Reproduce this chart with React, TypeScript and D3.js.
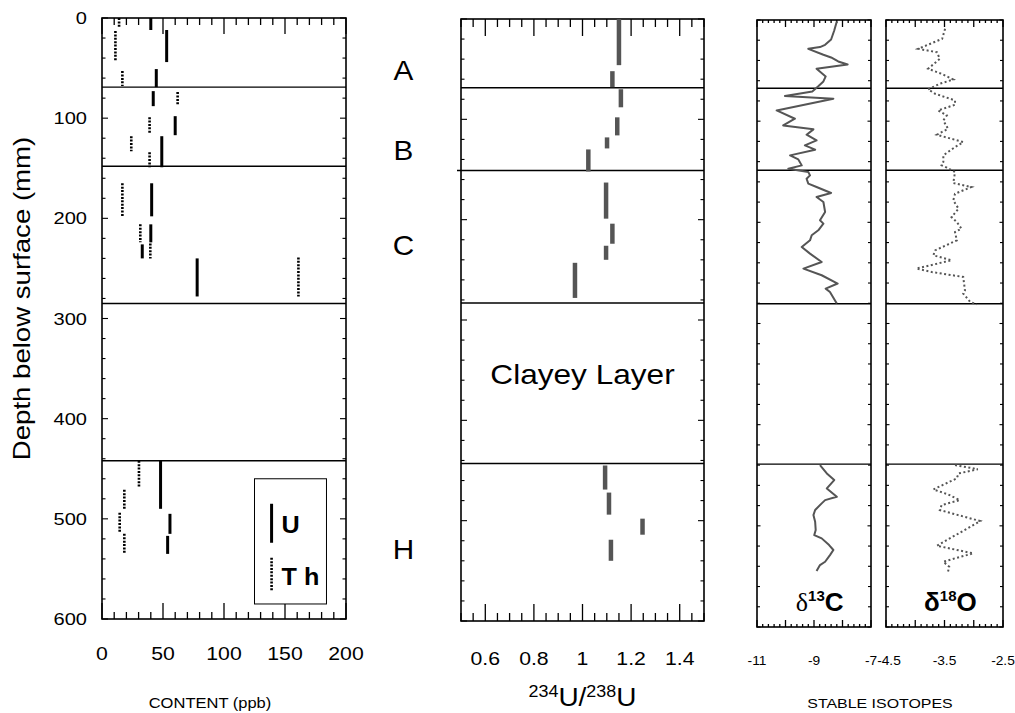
import React from "react";
import * as d3 from "d3";

// ---------- Data ----------
// U and Th content (ppb) as vertical bars spanning sample depth intervals (mm)
const uDepthTop = [0, 12, 51, 73, 98, 118, 165, 206, 226, 240, 442, 495, 517];
const uDepthBottom = [12, 44, 69, 88, 117, 149, 198, 224, 240, 278, 490, 515, 535];
const uContent = [40, 53, 44.5, 42, 60, 49, 40.7, 40, 33, 78, 48, 55.7, 53.8];

const thDepthTop = [0, 13, 53, 74, 99, 118, 134, 165, 206, 225, 239, 442, 471, 494, 515];
const thDepthBottom = [10, 43, 68, 86, 116, 133, 149, 198, 224, 240, 278, 469, 490, 514, 535];
const thContent = [14, 11, 16.7, 62, 39, 24, 39, 16.7, 31.4, 39.6, 161, 30.3, 18.3, 14.5, 18.3];

// 234U/238U activity ratio
const ratioDepthTop = [0, 52, 70, 98, 118, 130, 163, 204, 226, 243, 445, 472, 498, 519];
const ratioDepthBottom = [46, 68, 88, 116, 129, 152, 199, 224, 240, 278, 469, 494, 514, 540];
const ratioValue = [1.15, 1.123, 1.158, 1.143, 1.101, 1.024, 1.097, 1.123, 1.097, 0.969, 1.093, 1.109, 1.247, 1.117];

// δ13C profile (upper part, layers A–C)
const c13DepthUpper = [1.5, 10.4, 19.3, 24.5, 26.8, 28.5, 34.4, 37, 41, 44, 48.2, 55.8, 60.7, 65.4, 70.6, 72.3, 75.2, 77.9, 89.4, 97.6, 104.2, 108.1, 113.4, 119, 124, 128.2, 133.8, 137.8, 143.7, 147, 150.3, 153.6, 156.9, 161.8, 165.1, 171, 175, 179.9, 189.8, 198, 201.3, 207.9, 212.8, 217.8, 224.4, 230.9, 239.2, 245.7, 252.3, 260.5, 265.5, 268.8, 280.3];
const c13ValueUpper = [-8.2, -8.29, -8.4, -8.61, -8.79, -9.2, -8.67, -8.4, -8.15, -7.82, -8.91, -8.59, -8.67, -8.85, -9.06, -9.43, -10.02, -8.32, -10.31, -9.67, -10.08, -9.02, -9.26, -8.91, -9.32, -8.96, -9.84, -9.55, -9.43, -9.9, -9.2, -9.14, -9.26, -9.2, -8.91, -8.4, -8.91, -8.67, -8.61, -8.79, -8.67, -8.85, -9.08, -9.14, -9.43, -9.14, -8.73, -9.37, -8.73, -8.17, -8.59, -8.44, -8.2];
// δ13C profile (layer H)
const c13DepthLower = [440, 448.2, 454.8, 463, 471.3, 474.6, 477.8, 484.4, 489.4, 496, 504.2, 509.1, 512.4, 519, 523.9, 528.9, 535.5, 538.8, 544.7];
const c13ValueLower = [-8.79, -8.55, -8.29, -8.55, -8.2, -8.61, -8.73, -8.96, -9.02, -8.96, -8.94, -8.99, -8.73, -8.47, -8.32, -8.44, -8.61, -8.79, -8.91];

// δ18O profile (upper part)
const o18DepthUpper = [8.7, 18.6, 28.5, 31.8, 38.4, 48.2, 53.2, 58.8, 63, 68.6, 72.9, 79.5, 83.8, 89.4, 94.3, 99.3, 107.5, 113.4, 120.7, 125.6, 133.8, 140.4, 143.7, 146, 150.3, 161.2, 165.1, 171.7, 178.3, 186.5, 194.8, 199.7, 206.2, 209.6, 217.8, 227.7, 232.6, 237.5, 245.7, 249.1, 254, 267.2, 270.4, 278.7, 281];
const o18ValueUpper = [-3.49, -3.54, -3.95, -3.63, -3.58, -3.78, -3.55, -3.35, -3.58, -3.78, -3.66, -3.32, -3.32, -3.61, -3.46, -3.52, -3.44, -3.63, -3.18, -3.32, -3.52, -3.52, -3.55, -3.46, -3.32, -3.35, -3.04, -3.32, -3.35, -3.26, -3.38, -3.29, -3.21, -3.32, -3.29, -3.66, -3.69, -3.38, -3.98, -3.72, -3.18, -3.15, -3.18, -3.06, -2.95];
// δ18O profile (layer H)
const o18DepthLower = [440, 444, 448.2, 453.1, 464, 468.9, 474.6, 479.5, 484.4, 495.3, 505.9, 519.7, 527.2, 532.1, 535.5, 540.4, 545.4];
const o18ValueLower = [-3.32, -2.93, -3.26, -3.29, -3.69, -3.44, -3.24, -3.55, -3.58, -2.89, -3.21, -3.63, -3.01, -3.32, -3.52, -3.42, -3.44];

// layer boundaries (mm) as drawn in each panel
const contentBoundaries = [69, 148, 285, 442];
const ratioBoundaries = [68.5, 151, 283, 443];
const isotopeBoundaries = [67.5, 148.5, 280.5, 439];

const layerNames = ["A", "B", "C", "H"];
const layerLabelDepth = [51, 131, 225, 528];

const contentTickLabels = [0, 50, 100, 150, 200];
const depthTickLabels = [0, 100, 200, 300, 400, 500, 600];
const ratioTickLabels = [0.6, 0.8, 1, 1.2, 1.4];
const c13TickLabels = [-11, -9, -7];
const o18TickLabels = [-4.5, -3.5, -2.5];

const FONT = "'Liberation Sans', Arial, Helvetica, sans-serif";
const GREY = "#555";

type Tick = { v: number; major: boolean };

function makeTicks(start: number, step: number, n: number, isMajor: (i: number) => boolean): Tick[] {
  return d3.range(n + 1).map((i) => ({ v: +(start + i * step).toFixed(6), major: isMajor(i) }));
}

function Frame(props: {
  x: d3.ScaleLinear<number, number>;
  y: d3.ScaleLinear<number, number>;
  xTicks: Tick[];
  yTicks: Tick[];
  xMajor: number;
  xMinor: number;
  yMajor: number;
  yMinor: number;
}) {
  const { x, y, xTicks, yTicks, xMajor, xMinor, yMajor, yMinor } = props;
  const [x0, x1] = x.range();
  const [y0, y1] = y.range();
  return (
    <g>
      {xTicks.map((t, i) => {
        const px = x(t.v);
        const len = t.major ? xMajor : xMinor;
        return (
          <g key={"x" + i} stroke="#000" strokeWidth={1.3}>
            <line x1={px} x2={px} y1={y1} y2={y1 - len} />
            <line x1={px} x2={px} y1={y0} y2={y0 + len} />
          </g>
        );
      })}
      {yTicks.map((t, i) => {
        const py = y(t.v);
        const len = t.major ? yMajor : yMinor;
        return (
          <g key={"y" + i} stroke="#000" strokeWidth={1.1}>
            <line x1={x0} x2={x0 + len} y1={py} y2={py} />
            <line x1={x1} x2={x1 - len} y1={py} y2={py} />
          </g>
        );
      })}
      <rect x={x0} y={y0} width={x1 - x0} height={y1 - y0} fill="none" stroke="#000" strokeWidth={1.6} />
    </g>
  );
}

function T(props: {
  x: number;
  y: number;
  size: number;
  anchor?: string;
  sx?: number;
  rotate?: number;
  weight?: string | number;
  family?: string;
  children: React.ReactNode;
}) {
  const { x, y, size, anchor = "middle", sx = 1.18, rotate = 0, weight = "normal", family = FONT, children } = props;
  return (
    <g transform={`translate(${x},${y}) rotate(${rotate}) scale(${sx},1)`}>
      <text textAnchor={anchor as any} fontSize={size} fontWeight={weight} fontFamily={family} fill="#000">
        {children}
      </text>
    </g>
  );
}

export default function App() {
  // scales
  const yContent = d3.scaleLinear().domain([0, 600]).range([18, 619]);
  const xContent = d3.scaleLinear().domain([0, 200]).range([102, 346]);
  const yRatio = d3.scaleLinear().domain([0, 600]).range([19, 621]);
  const xRatio = d3.scaleLinear().domain([0.5, 1.5]).range([461, 704]);
  const yIso = d3.scaleLinear().domain([0, 600]).range([20, 627]);
  const xC = d3.scaleLinear().domain([-11, -7]).range([757, 871]);
  const xO = d3.scaleLinear().domain([-4.5, -2.5]).range([886, 1003]);

  const depthTicks = makeTicks(0, 20, 30, (i) => i % 5 === 0);
  const contentTicks = makeTicks(0, 10, 20, (i) => i % 5 === 0);
  const ratioTicks = makeTicks(0.5, 0.05, 20, (i) => i >= 2 && (i - 2) % 4 === 0);
  const cTicks = makeTicks(-11, 0.2, 20, (i) => i % 5 === 0);
  const oTicks = makeTicks(-4.5, 0.1, 20, (i) => i % 5 === 0);

  const lineC = d3
    .line<[number, number]>()
    .x((d) => xC(d[1]))
    .y((d) => yIso(d[0]));
  const lineO = d3
    .line<[number, number]>()
    .x((d) => xO(d[1]))
    .y((d) => yIso(d[0]));

  const c13Upper = c13DepthUpper.map((d, i) => [d, c13ValueUpper[i]] as [number, number]);
  const c13Lower = c13DepthLower.map((d, i) => [d, c13ValueLower[i]] as [number, number]);
  const o18Upper = o18DepthUpper.map((d, i) => [d, o18ValueUpper[i]] as [number, number]);
  const o18Lower = o18DepthLower.map((d, i) => [d, o18ValueLower[i]] as [number, number]);

  const labelX = (xContent.range()[1] + xRatio.range()[0]) / 2;

  // legend geometry (relative to content panel)
  const lgX0 = xContent(125);
  const lgX1 = xContent(184);
  const lgY0 = yContent(460);
  const lgY1 = yContent(585);
  const lgLineX = xContent(139);

  return (
    <svg
      width={1015}
      height={713}
      style={{ position: "absolute", left: 0, top: 0, display: "block" }}
      fontFamily={FONT}
    >
      <rect x={0} y={0} width={1015} height={713} fill="#fff" />

      {/* ---------- Panel 1: U / Th content ---------- */}
      <Frame x={xContent} y={yContent} xTicks={contentTicks} yTicks={depthTicks} xMajor={16} xMinor={7} yMajor={6} yMinor={3.5} />
      {contentBoundaries.map((b, i) => (
        <line key={"cb" + i} x1={xContent.range()[0]} x2={xContent.range()[1]} y1={yContent(b)} y2={yContent(b)} stroke="#000" strokeWidth={1.4} />
      ))}
      {uContent.map((v, i) => (
        <line key={"u" + i} x1={xContent(v)} x2={xContent(v)} y1={yContent(uDepthTop[i])} y2={yContent(uDepthBottom[i])} stroke="#000" strokeWidth={3} />
      ))}
      {thContent.map((v, i) => (
        <line key={"th" + i} x1={xContent(v)} x2={xContent(v)} y1={yContent(thDepthTop[i])} y2={yContent(thDepthBottom[i])} stroke="#000" strokeWidth={2.6} strokeDasharray="2,1.4" />
      ))}
      {/* legend */}
      <rect x={lgX0} y={lgY0} width={lgX1 - lgX0} height={lgY1 - lgY0} fill="#fff" stroke="#000" strokeWidth={1} />
      <line x1={lgLineX} x2={lgLineX} y1={lgY0 + 25} y2={lgY0 + 64} stroke="#000" strokeWidth={3} />
      <T x={lgLineX + 10} y={lgY0 + 54} size={24} weight="bold" anchor="start" sx={1.05}>U</T>
      <line x1={lgLineX} x2={lgLineX} y1={lgY0 + 79} y2={lgY0 + 112} stroke="#000" strokeWidth={2.6} strokeDasharray="2,1.4" />
      <T x={lgLineX + 10} y={lgY0 + 106} size={24} weight="bold" anchor="start" sx={1.05}>T h</T>

      {/* depth tick labels */}
      {depthTickLabels.map((d) => (
        <T key={"dl" + d} x={87} y={yContent(d) + 6} size={17} anchor="end">{d}</T>
      ))}
      {contentTickLabels.map((v) => (
        <T key={"cl" + v} x={xContent(v)} y={660} size={18}>{v}</T>
      ))}
      <T x={30} y={(yContent(0) + yContent(600)) / 2 - 20} size={23} rotate={-90} sx={1.2}>Depth below surface (mm)</T>
      <T x={210} y={708} size={14}>CONTENT (ppb)</T>

      {/* ---------- Panel 2: 234U/238U ---------- */}
      <Frame x={xRatio} y={yRatio} xTicks={ratioTicks} yTicks={depthTicks} xMajor={17} xMinor={8} yMajor={6} yMinor={3.5} />
      {ratioBoundaries.map((b, i) => (
        <line key={"rb" + i} x1={xRatio.range()[0] - (i === 1 ? 4 : 0)} x2={xRatio.range()[1]} y1={yRatio(b)} y2={yRatio(b)} stroke="#000" strokeWidth={1.4} />
      ))}
      {ratioValue.map((v, i) => (
        <line key={"r" + i} x1={xRatio(v)} x2={xRatio(v)} y1={yRatio(ratioDepthTop[i])} y2={yRatio(ratioDepthBottom[i])} stroke={GREY} strokeWidth={4.5} />
      ))}
      {ratioTickLabels.map((v) => (
        <T key={"rl" + v} x={xRatio(v)} y={665} size={18}>{v}</T>
      ))}
      <g transform={`translate(${(xRatio.range()[0] + xRatio.range()[1]) / 2},706) scale(1.12,1)`}>
        <text textAnchor="middle" fontFamily={FONT} fontSize={25} fill="#000">
          <tspan fontSize={16} dy={-9}>234</tspan>
          <tspan dy={9}>U/</tspan>
          <tspan fontSize={16} dy={-9}>238</tspan>
          <tspan dy={9}>U</tspan>
        </text>
      </g>
      <T x={(xRatio.range()[0] + xRatio.range()[1]) / 2} y={yRatio(355) + 9} size={27} sx={1.17}>Clayey Layer</T>

      {/* layer letters */}
      {layerNames.map((n, i) => (
        <T key={"ln" + n} x={labelX} y={yRatio(layerLabelDepth[i]) + 10} size={27} sx={1.1}>{n}</T>
      ))}

      {/* ---------- Panel 3: δ13C ---------- */}
      <Frame x={xC} y={yIso} xTicks={cTicks} yTicks={depthTicks} xMajor={7} xMinor={3} yMajor={3.5} yMinor={3} />
      {isotopeBoundaries.map((b, i) => (
        <line key={"cbd" + i} x1={xC.range()[0]} x2={xC.range()[1]} y1={yIso(b)} y2={yIso(b)} stroke="#000" strokeWidth={1.4} />
      ))}
      <path d={lineC(c13Upper) || ""} fill="none" stroke={GREY} strokeWidth={2} strokeLinejoin="round" />
      <path d={lineC(c13Lower) || ""} fill="none" stroke={GREY} strokeWidth={2} strokeLinejoin="round" />
      <g transform={`translate(${xC(-8.8)},611)`}>
        <text textAnchor="middle" fill="#000" fontSize={26}>
          <tspan fontFamily="'Liberation Serif', 'Times New Roman', serif">δ</tspan>
          <tspan fontFamily={FONT} fontWeight="bold" fontSize={15} dy={-10}>13</tspan>
          <tspan fontFamily={FONT} fontWeight="bold" dy={10}>C</tspan>
        </text>
      </g>
      {c13TickLabels.map((v) => (
        <T key={"c13l" + v} x={xC(v)} y={665} size={12.5} sx={1.1}>{v}</T>
      ))}

      {/* ---------- Panel 4: δ18O ---------- */}
      <Frame x={xO} y={yIso} xTicks={oTicks} yTicks={depthTicks} xMajor={7} xMinor={3} yMajor={3.5} yMinor={3} />
      {isotopeBoundaries.map((b, i) => (
        <line key={"obd" + i} x1={xO.range()[0]} x2={xO.range()[1]} y1={yIso(b)} y2={yIso(b)} stroke="#000" strokeWidth={1.4} />
      ))}
      <path d={lineO(o18Upper) || ""} fill="none" stroke={GREY} strokeWidth={2} strokeDasharray="2,2.5" />
      <path d={lineO(o18Lower) || ""} fill="none" stroke={GREY} strokeWidth={2} strokeDasharray="2,2.5" />
      <g transform={`translate(${xO(-3.4)},611)`}>
        <text textAnchor="middle" fill="#000" fontSize={26} fontFamily={FONT} fontWeight="bold">
          <tspan>δ</tspan>
          <tspan fontSize={15} dy={-10}>18</tspan>
          <tspan dy={10}>O</tspan>
        </text>
      </g>
      {c13TickLabels.length > 0 && o18TickLabels.map((v) => (
        <T key={"o18l" + v} x={xO(v) + (v === -4.5 ? 3 : 0)} y={665} size={12.5} sx={1.1}>{v}</T>
      ))}
      <T x={(xC.range()[0] + xO.range()[1]) / 2} y={708} size={13.5}>STABLE ISOTOPES</T>
    </svg>
  );
}
